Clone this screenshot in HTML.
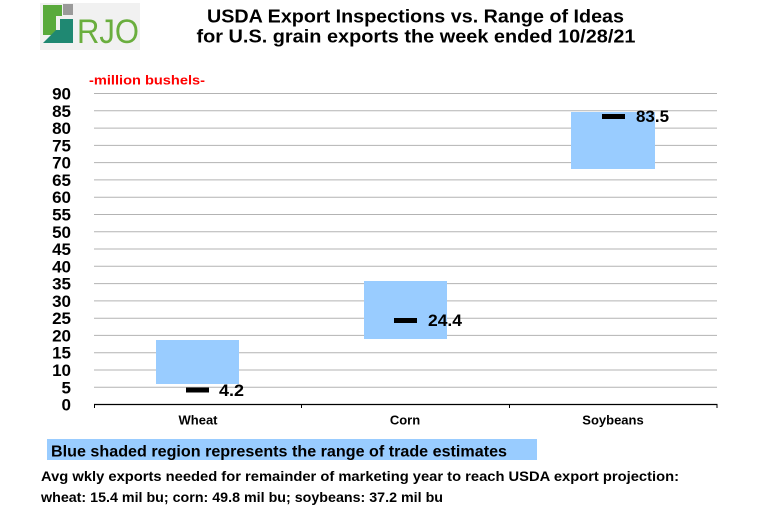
<!DOCTYPE html>
<html><head><meta charset="utf-8"><style>
html,body{margin:0;padding:0;background:#fff;}
svg{display:block;}
text{font-family:"Liberation Sans",Arial,sans-serif;font-weight:bold;}
</style></head><body>
<svg width="763" height="516" viewBox="0 0 763 516" xmlns="http://www.w3.org/2000/svg">
<rect width="763" height="516" fill="#fff"/>
<!-- logo -->
<rect x="40" y="3" width="100" height="47" fill="#f1f1f1"/>
<polygon points="43,5 62,5 62,16 56,16 56,35 43,35" fill="#5aaa3c"/>
<rect x="63" y="4" width="10" height="11" fill="#9a9a9a"/>
<polygon points="43,43 56,30 60,30 60,19 73,19 73,43" fill="#1f8872"/>
<text x="77" y="43" font-size="34" fill="#6aae3e" style="font-weight:normal;font-family:'Liberation Sans Narrow','Liberation Sans',sans-serif" textLength="62" lengthAdjust="spacingAndGlyphs">RJO</text>
<!-- title -->
<text x="415.5" y="22.5" font-size="18.5" text-anchor="middle" textLength="417" lengthAdjust="spacingAndGlyphs">USDA Export Inspections vs. Range of Ideas</text>
<text x="416" y="42.5" font-size="18.5" text-anchor="middle" textLength="439" lengthAdjust="spacingAndGlyphs">for U.S. grain exports the week ended 10/28/21</text>
<text x="89" y="84.5" font-size="13" fill="#ff0000" textLength="116" lengthAdjust="spacingAndGlyphs">-million bushels-</text>
<!-- gridlines -->
<g stroke="#b3b3b3" stroke-width="1">
<line x1="94" y1="93.5" x2="717" y2="93.5"/>
<line x1="94" y1="110.8" x2="717" y2="110.8"/>
<line x1="94" y1="128.1" x2="717" y2="128.1"/>
<line x1="94" y1="145.4" x2="717" y2="145.4"/>
<line x1="94" y1="162.6" x2="717" y2="162.6"/>
<line x1="94" y1="179.9" x2="717" y2="179.9"/>
<line x1="94" y1="197.2" x2="717" y2="197.2"/>
<line x1="94" y1="214.5" x2="717" y2="214.5"/>
<line x1="94" y1="231.8" x2="717" y2="231.8"/>
<line x1="94" y1="249.0" x2="717" y2="249.0"/>
<line x1="94" y1="266.3" x2="717" y2="266.3"/>
<line x1="94" y1="283.6" x2="717" y2="283.6"/>
<line x1="94" y1="300.9" x2="717" y2="300.9"/>
<line x1="94" y1="318.2" x2="717" y2="318.2"/>
<line x1="94" y1="335.4" x2="717" y2="335.4"/>
<line x1="94" y1="352.7" x2="717" y2="352.7"/>
<line x1="94" y1="370.0" x2="717" y2="370.0"/>
<line x1="94" y1="387.3" x2="717" y2="387.3"/>
</g>
<!-- y labels -->
<g font-size="17" text-anchor="end">
<text x="71" y="99.5">90</text>
<text x="71" y="116.8">85</text>
<text x="71" y="134.1">80</text>
<text x="71" y="151.4">75</text>
<text x="71" y="168.6">70</text>
<text x="71" y="185.9">65</text>
<text x="71" y="203.2">60</text>
<text x="71" y="220.5">55</text>
<text x="71" y="237.8">50</text>
<text x="71" y="255.0">45</text>
<text x="71" y="272.3">40</text>
<text x="71" y="289.6">35</text>
<text x="71" y="306.9">30</text>
<text x="71" y="324.2">25</text>
<text x="71" y="341.4">20</text>
<text x="71" y="358.7">15</text>
<text x="71" y="376.0">10</text>
<text x="71" y="393.3">5</text>
<text x="71" y="410.6">0</text>
</g>
<!-- boxes -->
<rect x="156" y="340" width="83" height="44" fill="#99ccff"/>
<rect x="364" y="281" width="83" height="58" fill="#99ccff"/>
<rect x="571" y="112" width="84" height="57" fill="#99ccff"/>
<!-- dashes -->
<rect x="186" y="387.5" width="23" height="5" fill="#000"/>
<rect x="394" y="318" width="23" height="5" fill="#000"/>
<rect x="602" y="114" width="23" height="5" fill="#000"/>
<!-- value labels -->
<g font-size="17">
<text x="219" y="396" textLength="25" lengthAdjust="spacingAndGlyphs">4.2</text>
<text x="428" y="326" textLength="34" lengthAdjust="spacingAndGlyphs">24.4</text>
<text x="636" y="122" textLength="33" lengthAdjust="spacingAndGlyphs">83.5</text>
</g>
<!-- axis -->
<line x1="94" y1="404.5" x2="717.5" y2="404.5" stroke="#000" stroke-width="1.2"/>
<g stroke="#000" stroke-width="1">
<line x1="94.5" y1="404" x2="94.5" y2="408"/>
<line x1="301.5" y1="404" x2="301.5" y2="408"/>
<line x1="509.5" y1="404" x2="509.5" y2="408"/>
<line x1="717" y1="404" x2="717" y2="408"/>
</g>
<g font-size="13" text-anchor="middle">
<text x="198" y="424.5">Wheat</text>
<text x="405" y="424.5">Corn</text>
<text x="613" y="424.5">Soybeans</text>
</g>
<!-- bottom notes -->
<rect x="47" y="439" width="490" height="21" fill="#99ccff"/>
<text x="51" y="456.5" font-size="16" textLength="456" lengthAdjust="spacingAndGlyphs">Blue shaded region represents the range of trade estimates</text>
<text x="41" y="481" font-size="14" textLength="638" lengthAdjust="spacingAndGlyphs">Avg wkly exports needed for remainder of marketing year to reach USDA export projection:</text>
<text x="41" y="502" font-size="14" textLength="402" lengthAdjust="spacingAndGlyphs">wheat: 15.4 mil bu; corn: 49.8 mil bu; soybeans: 37.2 mil bu</text>
</svg>
</body></html>
